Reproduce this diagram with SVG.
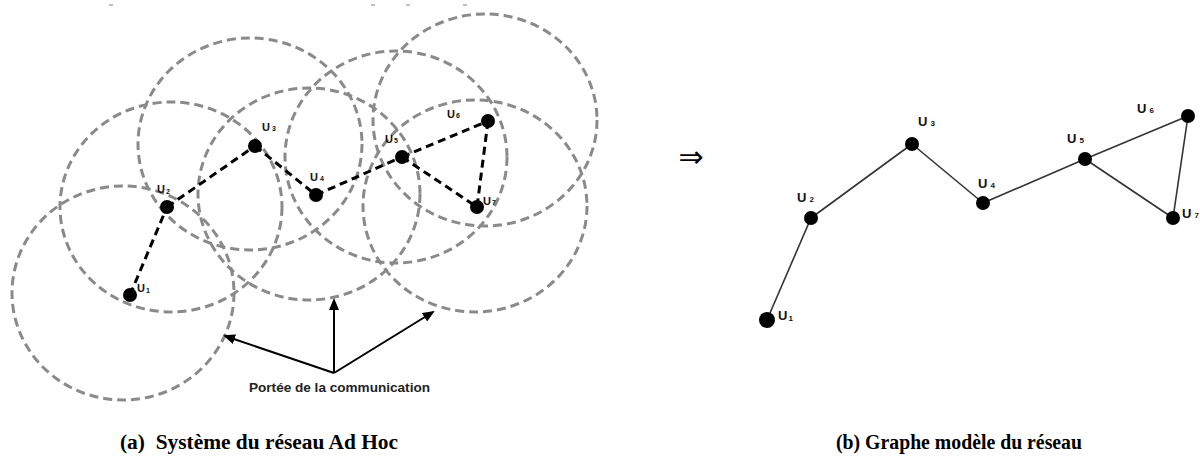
<svg xmlns="http://www.w3.org/2000/svg" width="1200" height="473" viewBox="0 0 1200 473">
<style>
.rng{fill:none;stroke:#8a8a8a;stroke-width:3;stroke-dasharray:9 5}
.dedge{stroke:#000;stroke-width:3;stroke-dasharray:8 5;fill:none}
.edge{stroke:#333;stroke-width:1.6;fill:none}
.dot{fill:#000}
.lblA{font-family:"Liberation Sans",Arial,sans-serif;font-weight:bold;font-size:11px;fill:#111}
.lblB{font-family:"Liberation Sans",Arial,sans-serif;font-weight:bold;font-size:13px;fill:#111}
.sub{font-size:7px}
.cap{font-family:"Liberation Serif","Times New Roman",serif;font-weight:bold;font-size:20px;fill:#000}
.arr{stroke:#000;stroke-width:2;fill:none}
.mark{stroke:#aaa;stroke-width:1.5}
</style>
<defs>
<marker id="ah" markerWidth="12" markerHeight="10" refX="10" refY="5" orient="auto" markerUnits="userSpaceOnUse">
<path d="M0,0 L12,5 L0,10 z" fill="#000"/>
</marker>
</defs>
<rect width="1200" height="473" fill="#fff"/>
<g id="marks">
<line class="mark" x1="109" y1="5" x2="113" y2="5"/>
<line class="mark" x1="371" y1="5" x2="375" y2="5"/>
<line class="mark" x1="406" y1="5" x2="410" y2="5"/>
<line class="mark" x1="463" y1="5" x2="467" y2="5"/>
</g>
<g id="ranges">
<ellipse class="rng" cx="123" cy="293" rx="111" ry="107"/>
<ellipse class="rng" cx="171" cy="207" rx="111" ry="105"/>
<ellipse class="rng" cx="250" cy="144" rx="112" ry="106"/>
<ellipse class="rng" cx="309" cy="194" rx="111" ry="106"/>
<ellipse class="rng" cx="396" cy="157" rx="111" ry="106"/>
<ellipse class="rng" cx="485" cy="120" rx="112" ry="106"/>
<ellipse class="rng" cx="475" cy="206" rx="112" ry="106"/>
</g>
<g id="connectors">
<line class="dedge" x1="130" y1="295" x2="167" y2="207"/>
<line class="dedge" x1="167" y1="207" x2="255" y2="146"/>
<line class="dedge" x1="255" y1="146" x2="316" y2="195"/>
<line class="dedge" x1="316" y1="195" x2="402" y2="157"/>
<line class="dedge" x1="402" y1="157" x2="488" y2="121"/>
<line class="dedge" x1="402" y1="157" x2="477" y2="207"/>
<line class="dedge" x1="488" y1="121" x2="477" y2="207"/>
<line class="arr" x1="334" y1="373" x2="334" y2="300" marker-end="url(#ah)"/>
<line class="arr" x1="334" y1="373" x2="225" y2="336" marker-end="url(#ah)"/>
<line class="arr" x1="334" y1="373" x2="433" y2="312" marker-end="url(#ah)"/>
<line class="edge" x1="767" y1="320" x2="811" y2="218"/>
<line class="edge" x1="811" y1="218" x2="912" y2="144"/>
<line class="edge" x1="912" y1="144" x2="983" y2="203"/>
<line class="edge" x1="983" y1="203" x2="1085" y2="159"/>
<line class="edge" x1="1085" y1="159" x2="1188" y2="116"/>
<line class="edge" x1="1085" y1="159" x2="1173" y2="218"/>
<line class="edge" x1="1188" y1="116" x2="1173" y2="218"/>
</g>
<g id="a-U1"><circle class="dot" cx="130" cy="295" r="7"/><text class="lblA" x="137" y="292">U<tspan class="sub" dx="1" dy="1">1</tspan></text></g>
<g id="a-U2"><circle class="dot" cx="167" cy="207" r="7"/><text class="lblA" x="157" y="193">U<tspan class="sub" dx="1" dy="1">2</tspan></text></g>
<g id="a-U3"><circle class="dot" cx="255" cy="146" r="7"/><text class="lblA" x="262" y="131">U<tspan class="sub" dx="2" dy="0">3</tspan></text></g>
<g id="a-U4"><circle class="dot" cx="316" cy="195" r="7"/><text class="lblA" x="310" y="181">U<tspan class="sub" dx="2" dy="0">4</tspan></text></g>
<g id="a-U5"><circle class="dot" cx="402" cy="157" r="7"/><text class="lblA" x="385" y="143">U<tspan class="sub" dx="1" dy="0">5</tspan></text></g>
<g id="a-U6"><circle class="dot" cx="488" cy="121" r="7"/><text class="lblA" x="447" y="118">U<tspan class="sub" dx="1" dy="0">6</tspan></text></g>
<g id="a-U7"><circle class="dot" cx="477" cy="207" r="7"/><text class="lblA" x="483" y="205">U<tspan class="sub" dx="1" dy="0">7</tspan></text></g>
<text id="range-label" x="249" y="392" textLength="181" lengthAdjust="spacingAndGlyphs" style="font-family:'Liberation Sans',Arial,sans-serif;font-weight:bold;font-size:12px;fill:#222">Portée de la communication</text>
<text id="implies" x="691" y="167" text-anchor="middle" style="font-family:'DejaVu Sans',sans-serif;font-size:30px;fill:#000">⇒</text>
<g id="b-U1"><circle class="dot" cx="767" cy="320" r="8"/><text class="lblB" x="778" y="320">U<tspan class="sub" dx="1" dy="1" style="font-size:8px">1</tspan></text></g>
<g id="b-U2"><circle class="dot" cx="811" cy="218" r="7"/><text class="lblB" x="797" y="202">U<tspan class="sub" dx="3" style="font-size:8px">2</tspan></text></g>
<g id="b-U3"><circle class="dot" cx="912" cy="144" r="7"/><text class="lblB" x="918" y="126">U<tspan class="sub" dx="3" style="font-size:8px">3</tspan></text></g>
<g id="b-U4"><circle class="dot" cx="983" cy="203" r="7"/><text class="lblB" x="978" y="188">U<tspan class="sub" dx="3" style="font-size:8px">4</tspan></text></g>
<g id="b-U5"><circle class="dot" cx="1085" cy="159" r="7"/><text class="lblB" x="1067" y="143">U<tspan class="sub" dx="3" style="font-size:8px">5</tspan></text></g>
<g id="b-U6"><circle class="dot" cx="1188" cy="116" r="7"/><text class="lblB" x="1137" y="113">U<tspan class="sub" dx="3" style="font-size:8px">6</tspan></text></g>
<g id="b-U7"><circle class="dot" cx="1173" cy="218" r="7"/><text class="lblB" x="1182" y="218">U<tspan class="sub" dx="3" style="font-size:8px">7</tspan></text></g>
<text id="cap-a" class="cap" x="120" y="449" xml:space="preserve" textLength="278" lengthAdjust="spacingAndGlyphs">(a)  Système du réseau Ad Hoc</text>
<text id="cap-b" class="cap" x="836" y="449" textLength="246" lengthAdjust="spacingAndGlyphs">(b) Graphe modèle du réseau</text>
</svg>
